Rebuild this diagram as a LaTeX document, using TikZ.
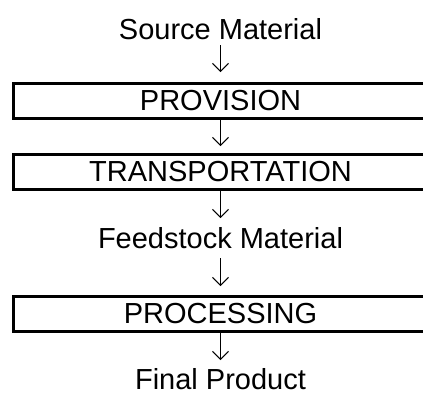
\documentclass[tikz,border=0pt]{standalone}
\usepackage{fontspec}
\setmainfont{Liberation Sans}
\usetikzlibrary{arrows.meta}

\begin{document}
\begin{tikzpicture}[x=1pt, y=1pt,
  every node/.style={inner sep=0pt, outer sep=0pt, font=\fontsize{29}{35}\selectfont},
  label text/.style={text height=21pt, text depth=0pt, anchor=south},
  stage box/.style={draw, line width=3pt, minimum width=414pt, minimum height=35pt},
  flow/.style={line width=1pt, -{Straight Barb[length=8pt, width=16pt, line width=1pt]}}
]
  \useasboundingbox (0,0) rectangle (423,-394);

  % materials and process stages, top to bottom
  \node[label text] (src)   at (220.5,-39)  {Source Material};
  \node[stage box]  (prov)  at (220.5,-100.5) {PROVISION};
  \node[stage box]  (trans) at (220.5,-172) {TRANSPORTATION};
  \node[label text] (feed)  at (220.5,-248) {Feedstock Material};
  \node[stage box]  (proc)  at (220.5,-313.5) {PROCESSING};
  \node[label text] (final) at (220.5,-389) {Final Product};

  % downward flow arrows
  \draw[flow, shorten <=6pt,  shorten >=11pt] (src.south)   -- (prov.north);
  \draw[flow, shorten <=0pt,  shorten >=8.5pt] (prov.south)  -- (trans.north);
  \draw[flow, shorten <=0pt,  shorten >=9pt]  (trans.south) -- (feed.north);
  \draw[flow, shorten <=10pt, shorten >=10pt] (feed.south)  -- (proc.north);
  \draw[flow, shorten <=1pt,  shorten >=8pt]  (proc.south)  -- (final.north);
\end{tikzpicture}
\end{document}
